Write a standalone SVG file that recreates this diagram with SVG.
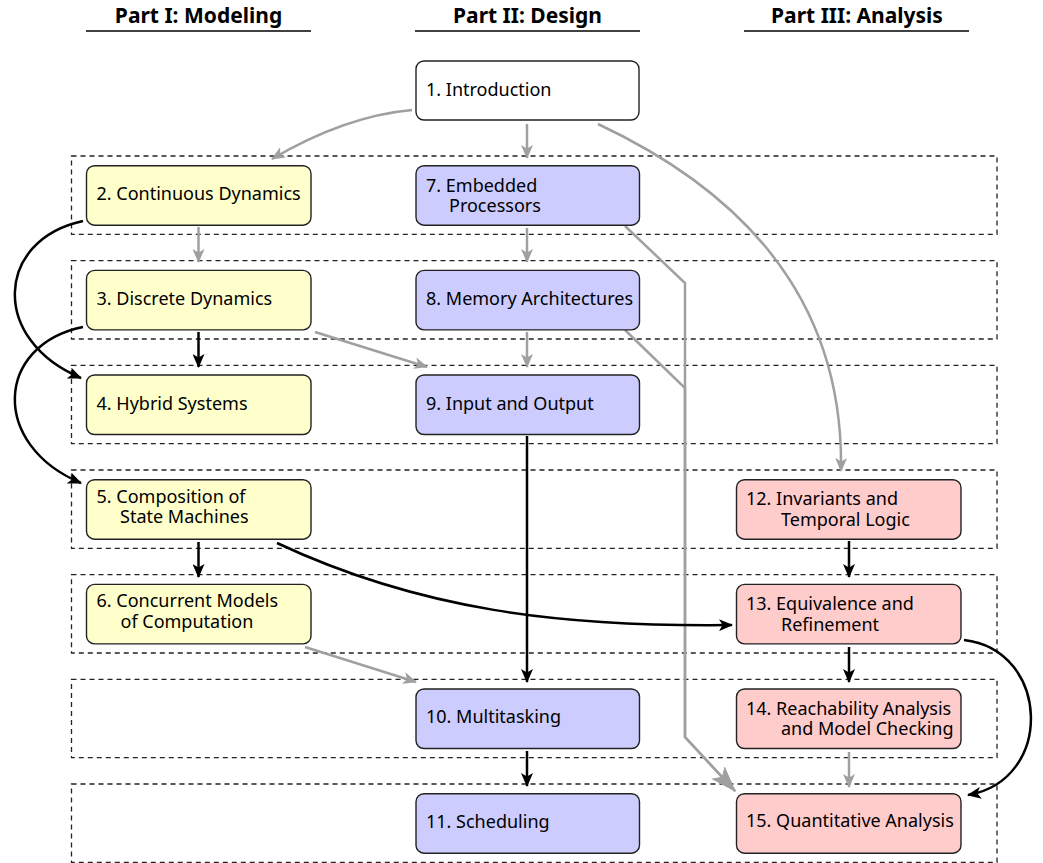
<svg xmlns="http://www.w3.org/2000/svg" width="1043" height="863" viewBox="0 0 1043 863">
<style>
.hdr{font-family:"Noto Sans","DejaVu Sans",sans-serif;font-weight:bold;font-size:21px;fill:#000;text-anchor:middle}
.ul{stroke:#000;stroke-width:1.5}
.row{fill:none;stroke:#222;stroke-width:1.3;stroke-dasharray:5,4}
.box{stroke:#222;stroke-width:1.4}
.w{fill:#fff}.y{fill:#ffffcc}.b{fill:#ccccff}.p{fill:#ffcccc}
.t{font-family:"Noto Sans","DejaVu Sans",sans-serif;font-size:18px;fill:#000}
.k{fill:none;stroke:#000;stroke-width:2.5}
.g{fill:none;stroke:#a0a0a0;stroke-width:2.5}
</style>
<defs>
<marker id="ak" markerUnits="userSpaceOnUse" markerWidth="14" markerHeight="12" viewBox="0 0 14 12" refX="13" refY="6" orient="auto"><path d="M0,0 L14,6 L0,12 L3.5,6 z" fill="#000"/></marker>
<marker id="ag" markerUnits="userSpaceOnUse" markerWidth="14" markerHeight="12" viewBox="0 0 14 12" refX="13" refY="6" orient="auto"><path d="M0,0 L14,6 L0,12 L3.5,6 z" fill="#a0a0a0"/></marker>
<marker id="agb" markerUnits="userSpaceOnUse" markerWidth="26" markerHeight="18" viewBox="0 0 26 18" refX="25" refY="9" orient="auto"><path d="M0,0 L26,9 L0,18 L6,9 z" fill="#a0a0a0"/></marker>
</defs>

<g id="headers">
<text class="hdr" x="198.5" y="23">Part I: Modeling</text>
<line class="ul" x1="86" y1="31" x2="311" y2="31"/>
<text class="hdr" x="527.5" y="23">Part II: Design</text>
<line class="ul" x1="415" y1="31" x2="640" y2="31"/>
<text class="hdr" x="857" y="23">Part III: Analysis</text>
<line class="ul" x1="744" y1="31" x2="969" y2="31"/>
</g>

<g id="rows">
<rect class="row" x="71.5" y="156" width="925.5" height="78.3"/>
<rect class="row" x="71.5" y="260.7" width="925.5" height="78.3"/>
<rect class="row" x="71.5" y="365.3" width="925.5" height="78.3"/>
<rect class="row" x="71.5" y="470" width="925.5" height="78.3"/>
<rect class="row" x="71.5" y="574.7" width="925.5" height="78.3"/>
<rect class="row" x="71.5" y="679.3" width="925.5" height="78.3"/>
<rect class="row" x="71.5" y="784" width="925.5" height="78.3"/>
</g>

<g id="connectors">
<path class="g" d="M412,110 Q345,116 272,159" marker-end="url(#ag)"/>
<path class="g" d="M527,124 L527,158" marker-end="url(#ag)"/>
<path class="g" d="M598,124 Q845,240 841,471" marker-end="url(#ag)"/>
<path class="g" d="M625,226 L685,283 L685,737 L735,791" marker-end="url(#agb)"/>
<path class="g" d="M625,330 L685,388 L685,737 L735,791" marker-end="url(#agb)"/>
<path class="g" d="M527,228 L527,262" marker-end="url(#ag)"/>
<path class="g" d="M527,332 L527,367" marker-end="url(#ag)"/>
<path class="g" d="M198.5,227 L198.5,262" marker-end="url(#ag)"/>
<path class="k" d="M198.5,332 L198.5,367" marker-end="url(#ak)"/>
<path class="g" d="M315,332 L427,367" marker-end="url(#ag)"/>
<path class="k" d="M83,221 C-5,240 -10,340 81,378" marker-end="url(#ak)"/>
<path class="k" d="M83,327 C-5,345 -10,445 81,483" marker-end="url(#ak)"/>
<path class="k" d="M198.5,542 L198.5,577" marker-end="url(#ak)"/>
<path class="k" d="M277,543 C420,610 560,627 732,625" marker-end="url(#ak)"/>
<path class="k" d="M527,436 L527,682" marker-end="url(#ak)"/>
<path class="g" d="M305,647 L416,682" marker-end="url(#ag)"/>
<path class="k" d="M527,751 L527,786" marker-end="url(#ak)"/>
<path class="k" d="M849,541 L849,577" marker-end="url(#ak)"/>
<path class="k" d="M849,647 L849,682" marker-end="url(#ak)"/>
<path class="g" d="M849,752 L849,787" marker-end="url(#ag)"/>
<path class="k" d="M964,640 C1050,650 1055,780 968,795" marker-end="url(#ak)"/>
</g>

<g id="n1"><rect class="box w" x="416" y="61" width="223" height="59" rx="8"/><text class="t" x="426" y="96">1. Introduction</text></g>

<g id="n2"><rect class="box y" x="86.5" y="165.7" width="224.5" height="59.5" rx="8"/><text class="t" x="96.5" y="200">2. Continuous Dynamics</text></g>
<g id="n3"><rect class="box y" x="86.5" y="270.4" width="224.5" height="59.5" rx="8"/><text class="t" x="96.5" y="305">3. Discrete Dynamics</text></g>
<g id="n4"><rect class="box y" x="86.5" y="375" width="224.5" height="59.5" rx="8"/><text class="t" x="96.5" y="409.5">4. Hybrid Systems</text></g>
<g id="n5"><rect class="box y" x="86.5" y="479.7" width="224.5" height="59.5" rx="8"/><text class="t" x="96.5" y="502.5">5. Composition of<tspan x="120" y="523">State Machines</tspan></text></g>
<g id="n6"><rect class="box y" x="86.5" y="584.4" width="224.5" height="59.5" rx="8"/><text class="t" x="96.5" y="607">6. Concurrent Models<tspan x="120.5" y="627.5">of Computation</tspan></text></g>

<g id="n7"><rect class="box b" x="416" y="165.7" width="223.5" height="59.5" rx="8"/><text class="t" x="426" y="191.5">7. Embedded<tspan x="449" y="212">Processors</tspan></text></g>
<g id="n8"><rect class="box b" x="416" y="270.4" width="223.5" height="59.5" rx="8"/><text class="t" x="426" y="305">8. Memory Architectures</text></g>
<g id="n9"><rect class="box b" x="416" y="375" width="223.5" height="59.5" rx="8"/><text class="t" x="426" y="409.5">9. Input and Output</text></g>
<g id="n10"><rect class="box b" x="416" y="689" width="223.5" height="59.5" rx="8"/><text class="t" x="426" y="723">10. Multitasking</text></g>
<g id="n11"><rect class="box b" x="416" y="793.7" width="223.5" height="59.5" rx="8"/><text class="t" x="426" y="827.5">11. Scheduling</text></g>

<g id="n12"><rect class="box p" x="736.5" y="479.7" width="224.5" height="59.5" rx="8"/><text class="t" x="746" y="505">12. Invariants and<tspan x="781" y="525.5">Temporal Logic</tspan></text></g>
<g id="n13"><rect class="box p" x="736.5" y="584.4" width="224.5" height="59.5" rx="8"/><text class="t" x="746" y="610">13. Equivalence and<tspan x="781" y="630.5">Refinement</tspan></text></g>
<g id="n14"><rect class="box p" x="736.5" y="689" width="224.5" height="59.5" rx="8"/><text class="t" x="746" y="714.5">14. Reachability Analysis<tspan x="781" y="735">and Model Checking</tspan></text></g>
<g id="n15"><rect class="box p" x="736.5" y="793.7" width="224.5" height="59.5" rx="8"/><text class="t" x="746" y="827">15. Quantitative Analysis</text></g>
</svg>
